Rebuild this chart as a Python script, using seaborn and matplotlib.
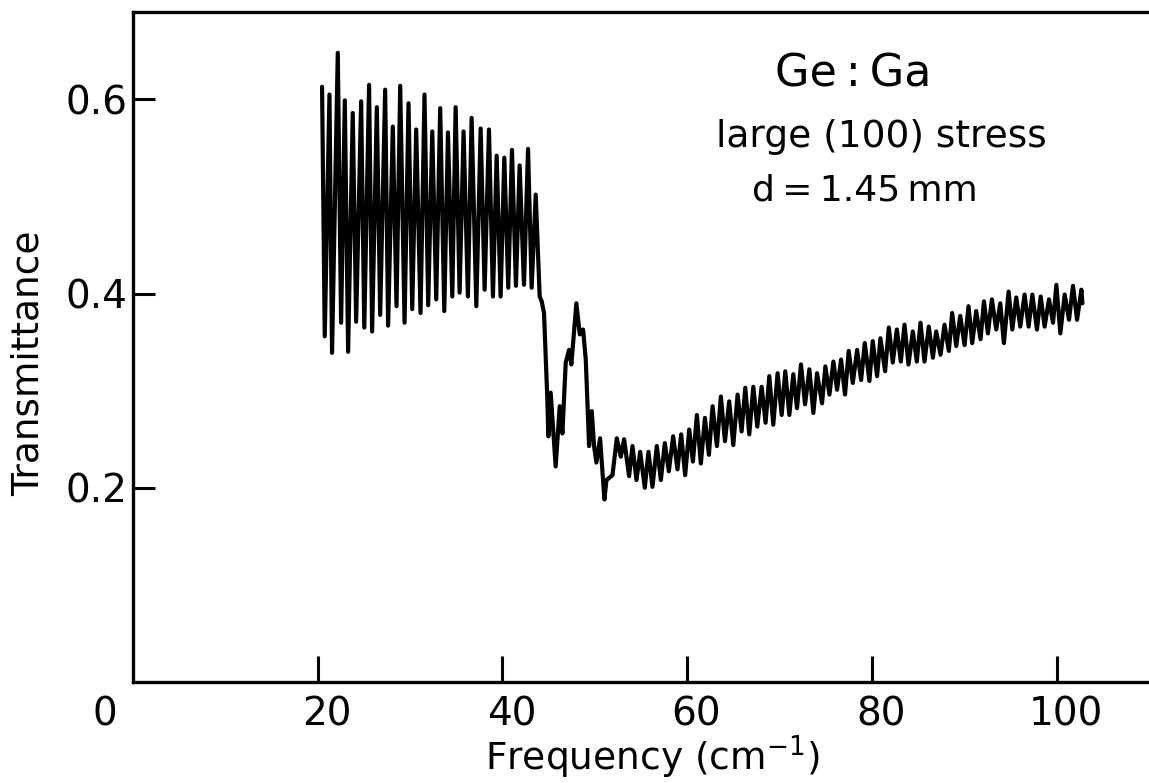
"""
Ge:Ga far-infrared transmittance under large (100) stress, d = 1.45 mm.
Trace digitised as the successive fringe maxima / minima of the recorder chart.

Writes: out.png
"""
import matplotlib.pyplot as plt
import matplotlib.transforms as mtransforms
import seaborn as sns

# fringe region, 20 - 44 cm-1 (alternating max / min)
FREQ_FRINGES = [20.47, 20.76, 21.27, 21.55, 22.17, 22.53, 22.93, 23.29, 23.79, 24.16,
                24.70, 25.04, 25.56, 25.89, 26.40, 26.76, 27.30, 27.62, 28.13, 28.53,
                28.93, 29.40, 29.83, 30.23, 30.66, 31.13, 31.56, 31.96, 32.40, 32.83,
                33.26, 33.70, 34.10, 34.57, 34.93, 35.36, 35.79, 36.26, 36.66, 37.17,
                37.64, 38.07, 38.54, 38.97, 39.37, 39.80, 40.20, 40.63, 41.03, 41.46,
                41.86, 42.33, 42.77, 43.16, 43.60]
TRANS_FRINGES = [0.613, 0.356, 0.605, 0.339, 0.648, 0.370, 0.599, 0.340, 0.586, 0.371,
                 0.598, 0.365, 0.615, 0.361, 0.592, 0.378, 0.610, 0.367, 0.572, 0.387,
                 0.614, 0.370, 0.596, 0.384, 0.569, 0.380, 0.605, 0.388, 0.567, 0.394,
                 0.591, 0.382, 0.566, 0.397, 0.592, 0.401, 0.567, 0.397, 0.581, 0.387,
                 0.570, 0.404, 0.569, 0.397, 0.542, 0.397, 0.540, 0.406, 0.548, 0.408,
                 0.532, 0.409, 0.549, 0.406, 0.502]

# absorption structure, 44 - 52 cm-1
FREQ_DIP = [44.03, 44.25, 44.50, 44.86, 44.97, 45.22, 45.76, 46.20, 46.49, 46.85,
            47.21, 47.46, 48.00, 48.37, 48.73, 49.02, 49.38, 49.67, 49.92, 50.17,
            50.57, 51.04, 51.26, 51.91]
TRANS_DIP = [0.397, 0.392, 0.380, 0.291, 0.253, 0.298, 0.222, 0.284, 0.256, 0.329,
             0.342, 0.327, 0.390, 0.358, 0.363, 0.332, 0.243, 0.279, 0.243, 0.226,
             0.251, 0.188, 0.208, 0.213]

# slow rise, 52 - 103 cm-1
FREQ_RISE = [52.38, 52.81, 53.17, 53.71, 54.08, 54.51, 54.91, 55.41, 55.81, 56.24,
             56.71, 57.15, 57.58, 58.01, 58.48, 58.95, 59.35, 59.78, 60.22, 60.62,
             61.05, 61.48, 61.92, 62.35, 62.75, 63.22, 63.65, 64.09, 64.55, 64.99,
             65.46, 65.89, 66.29, 66.72, 67.16, 67.59, 68.06, 68.49, 68.89, 69.32,
             69.79, 70.23, 70.62, 71.06, 71.49, 71.89, 72.32, 72.76, 73.23, 73.66,
             74.06, 74.60, 74.96, 75.40, 75.83, 76.23, 76.66, 77.09, 77.49, 77.93,
             78.40, 78.83, 79.23, 79.73, 80.09, 80.56, 80.92, 81.43, 81.83, 82.26,
             82.70, 83.13, 83.53, 83.96, 84.43, 84.86, 85.26, 85.69, 86.16, 86.60,
             86.96, 87.43, 87.86, 88.33, 88.69, 89.13, 89.56, 90.03, 90.46, 90.86,
             91.29, 91.76, 92.13, 92.56, 92.99, 93.46, 93.90, 94.29, 94.80, 95.20,
             95.63, 96.06, 96.53, 96.97, 97.37, 97.87, 98.27, 98.70, 99.17, 99.61,
             99.97, 100.40, 100.87, 101.34, 101.77, 102.21, 102.68, 102.79]
TRANS_RISE = [0.251, 0.232, 0.250, 0.212, 0.243, 0.208, 0.237, 0.200, 0.237, 0.201,
              0.243, 0.208, 0.246, 0.217, 0.253, 0.219, 0.255, 0.213, 0.260, 0.227,
              0.275, 0.225, 0.272, 0.234, 0.284, 0.243, 0.294, 0.248, 0.289, 0.244,
              0.296, 0.258, 0.303, 0.255, 0.304, 0.263, 0.304, 0.267, 0.315, 0.265,
              0.318, 0.275, 0.320, 0.275, 0.317, 0.282, 0.327, 0.286, 0.322, 0.277,
              0.318, 0.287, 0.325, 0.296, 0.330, 0.301, 0.332, 0.296, 0.341, 0.308,
              0.342, 0.311, 0.349, 0.310, 0.351, 0.315, 0.354, 0.320, 0.365, 0.329,
              0.363, 0.330, 0.368, 0.327, 0.361, 0.330, 0.370, 0.330, 0.366, 0.334,
              0.361, 0.337, 0.368, 0.341, 0.380, 0.346, 0.377, 0.347, 0.387, 0.349,
              0.382, 0.353, 0.392, 0.359, 0.394, 0.363, 0.390, 0.349, 0.402, 0.363,
              0.396, 0.366, 0.399, 0.366, 0.399, 0.363, 0.397, 0.366, 0.394, 0.370,
              0.409, 0.359, 0.399, 0.373, 0.408, 0.373, 0.404, 0.390]

X_TICKS = [20, 40, 60, 80, 100]
Y_TICKS = [0.2, 0.4, 0.6]
X_MAX = 110
Y_MAX = 0.69

LABEL_PT = 27
TICK_PT = 28


def main():
    sns.set_style("white")
    plt.rcParams["font.family"] = ["DejaVu Sans"]
    plt.rcParams["mathtext.fontset"] = "dejavusans"
    for key in ("text.color", "axes.labelcolor", "xtick.color", "ytick.color"):
        plt.rcParams[key] = "black"

    freq = FREQ_FRINGES + FREQ_DIP + FREQ_RISE
    trans = TRANS_FRINGES + TRANS_DIP + TRANS_RISE

    fig = plt.figure(figsize=(11.49, 7.83), dpi=100)
    ax = fig.add_axes([133 / 1149, 101 / 783, 1016 / 1149, 670 / 783])

    sns.lineplot(x=freq, y=trans, ax=ax, sort=False, estimator=None,
                 color="black", linewidth=3.0)

    ax.set_xlim(0, X_MAX)
    ax.set_ylim(0, Y_MAX)

    for side in ("left", "bottom", "top"):
        ax.spines[side].set_visible(True)
        ax.spines[side].set_color("black")
        ax.spines[side].set_linewidth(2.4)
    ax.spines["right"].set_visible(False)

    ax.set_xticks(X_TICKS)
    ax.set_xticklabels([str(t) for t in X_TICKS])
    ax.set_yticks(Y_TICKS)
    ax.set_yticklabels([f"{t:.1f}" for t in Y_TICKS])
    ax.tick_params(axis="x", direction="in", length=19, width=2.2,
                   pad=10, labelsize=TICK_PT, bottom=True, colors="black")
    ax.tick_params(axis="y", direction="in", length=16, width=2.2,
                   pad=4, labelsize=TICK_PT, left=True, colors="black")

    # the lettered x labels sit a little right of their ticks
    shift = mtransforms.ScaledTranslation(9 / 100, 0, fig.dpi_scale_trans)
    for lbl in ax.get_xticklabels():
        lbl.set_transform(lbl.get_transform() + shift)

    # corner "0"
    ax.annotate("0", xy=(0, 0), xycoords="data", xytext=(-20, -10),
                textcoords="offset points", ha="center", va="top",
                fontsize=TICK_PT, color="black", annotation_clip=False)

    ax.set_xlabel("Frequency (cm$^{-1}$)", fontsize=LABEL_PT, va="baseline",
                  color="black")
    ax.xaxis.set_label_coords(0.511, -0.131)
    ax.set_ylabel("Transmittance", fontsize=LABEL_PT, va="center", color="black")
    ax.yaxis.set_label_coords(-0.103, 0.476)

    ax.text(77.95, 0.613, "Ge\u2009:\u2009Ga", fontsize=32,
            ha="center", va="baseline", color="black")
    ax.text(80.98, 0.551, "large (100) stress", fontsize=27,
            ha="center", va="baseline", color="black")
    ax.text(79.25, 0.496, "d\u2009=\u20091.45\u2009mm", fontsize=26,
            ha="center", va="baseline", color="black")

    fig.savefig("out.png", dpi=100)
    plt.close(fig)


if __name__ == "__main__":
    main()
